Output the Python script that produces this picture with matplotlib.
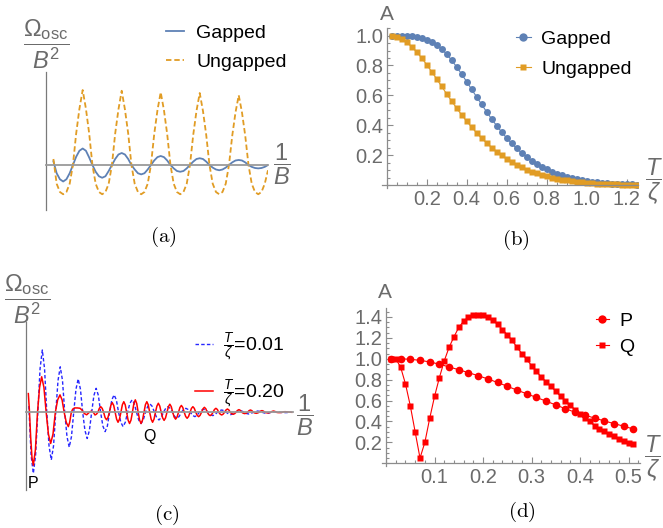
import numpy as np
import matplotlib.pyplot as plt
from matplotlib.lines import Line2D
from matplotlib.ticker import FixedLocator, MultipleLocator, FormatStrFormatter

plt.rcParams['font.family'] = ['Liberation Sans', 'DejaVu Sans']
plt.rcParams['mathtext.fontset'] = 'custom'
plt.rcParams['mathtext.rm'] = 'Liberation Sans'
plt.rcParams['mathtext.it'] = 'Liberation Sans:italic'
plt.rcParams['mathtext.bf'] = 'Liberation Sans:bold'

# --- (a) oscillating part vs 1/B (arbitrary units) ---
osc_x = np.linspace(0.19, 5.69, 67)
gapped_osc = [
    0.05, -0.11, -0.19, -0.22, -0.19, -0.11, 0.0, 0.11, 0.19, 0.22, 0.19, 0.10,
    0.0, -0.09, -0.15, -0.17, -0.15, -0.08, 0.0, 0.08, 0.14, 0.16, 0.14, 0.08,
    0.0, -0.06, -0.11, -0.125, -0.11, -0.06, 0.0, 0.06, 0.105, 0.12, 0.105, 0.06,
    0.0, -0.045, -0.08, -0.09, -0.08, -0.045, 0.0, 0.045, 0.08, 0.09, 0.08, 0.045,
    0.0, -0.035, -0.06, -0.07, -0.06, -0.035, 0.0, 0.035, 0.06, 0.067, 0.06, 0.035,
    0.0, -0.025, -0.04, -0.045, -0.04, -0.025, 0.0,
]
ungapped_osc = [
    0.08, -0.25, -0.36,
    -0.39, -0.36, -0.25, 0.0, 0.42, 0.75, 1.0, 0.75, 0.42, 0.0, -0.25, -0.36,
    -0.39, -0.36, -0.25, 0.0, 0.42, 0.74, 0.99, 0.74, 0.42, 0.0, -0.25, -0.36,
    -0.39, -0.36, -0.25, 0.0, 0.41, 0.73, 0.97, 0.73, 0.41, 0.0, -0.25, -0.36,
    -0.39, -0.36, -0.25, 0.0, 0.40, 0.72, 0.96, 0.72, 0.40, 0.0, -0.25, -0.36,
    -0.39, -0.36, -0.25, 0.0, 0.39, 0.70, 0.93, 0.70, 0.39, 0.0, -0.25, -0.36,
    -0.39, -0.36, -0.25, -0.07,
]

# --- (b) amplitude vs T/zeta ---
temp_b = np.linspace(0.025, 1.25, 50)
gapped_amp = [
    1.0, 1.0, 1.0, 0.998, 0.995, 0.99, 0.982, 0.97, 0.955, 0.935,
    0.91, 0.875, 0.835, 0.79, 0.742, 0.692, 0.64, 0.59, 0.54, 0.49,
    0.443, 0.398, 0.356, 0.316, 0.28, 0.247, 0.216, 0.19, 0.165, 0.143,
    0.124, 0.107, 0.092, 0.079, 0.067, 0.057, 0.049, 0.041, 0.035, 0.03,
    0.025, 0.021, 0.018, 0.015, 0.013, 0.011, 0.009, 0.008, 0.007, 0.006,
]
ungapped_amp = [
    1.0, 0.99, 0.975, 0.955, 0.925, 0.89, 0.85, 0.805, 0.758, 0.71,
    0.66, 0.61, 0.562, 0.515, 0.47, 0.428, 0.388, 0.35, 0.315, 0.283,
    0.253, 0.225, 0.2, 0.177, 0.156, 0.138, 0.121, 0.106, 0.093, 0.081,
    0.07, 0.061, 0.053, 0.046, 0.039, 0.034, 0.029, 0.025, 0.021, 0.018,
    0.015, 0.013, 0.011, 0.009, 0.008, 0.007, 0.006, 0.005, 0.004, 0.004,
]

# --- (c) oscillating part for T/zeta = 0.01 and 0.20 ---
low_t_x = np.linspace(0.0285, 2.653, 118)
low_t_osc = [
    0.10, -0.69, -0.98, -0.69, 0.0, 0.70, 1.0, 0.70, 0.0, -0.54,
    -0.765, -0.54, 0.0, 0.51, 0.73, 0.51, 0.0, -0.39, -0.56, -0.39,
    0.0, 0.37, 0.535, 0.37, 0.0, -0.29, -0.42, -0.29, 0.0, 0.27,
    0.385, 0.27, 0.0, -0.22, -0.31, -0.22, 0.0, 0.20, 0.28, 0.20,
    0.0, -0.16, -0.23, -0.16, 0.0, 0.14, 0.20, 0.14, 0.0, -0.125,
    -0.18, -0.125, 0.0, 0.095, 0.134, 0.095, 0.0, -0.086, -0.123, -0.086,
    0.0, 0.063, 0.09, 0.063, 0.0, -0.067, -0.096, -0.067, 0.0, 0.045,
    0.064, 0.045, 0.0, -0.049, -0.07, -0.049, 0.0, 0.034, 0.048, 0.034,
    0.0, -0.037, -0.053, -0.037, 0.0, 0.026, 0.037, 0.026, 0.0, -0.026,
    -0.037, -0.026, 0.0, 0.019, 0.027, 0.019, 0.0, -0.019, -0.027, -0.019,
    0.0, 0.014, 0.02, 0.014, 0.0, -0.011, -0.016, -0.011, 0.0, 0.007,
    0.01, 0.007, 0.0, -0.004, -0.005, -0.004, 0.0, 0.0,
]
high_t_head_x = [
    0.0233, 0.0333, 0.0467, 0.06, 0.0733, 0.0942, 0.115, 0.1358, 0.1567,
    0.1792, 0.2017, 0.2242, 0.2467, 0.27, 0.2933, 0.3167, 0.34, 0.3608,
    0.3817, 0.4025, 0.4233, 0.4367, 0.4533, 0.4667, 0.4867, 0.5133, 0.54,
    0.5633, 0.5833, 0.6067, 0.6333, 0.6533, 0.6733,
]
high_t_head = [
    0.30, 0.05, -0.40, -0.73, -0.85, -0.60, 0.0, 0.40, 0.57,
    0.40, 0.0, -0.35, -0.50, -0.35, 0.0, 0.20, 0.28, 0.20,
    0.0, -0.16, -0.23, -0.16, 0.0, 0.05, 0.07, 0.07, 0.065,
    0.03, -0.02, -0.04, 0.0, 0.02, 0.0,
]
high_t_tail_x = np.linspace(0.69, 2.59, 133)
high_t_tail = [
    -0.043, -0.03, 0.0, 0.063, 0.09, 0.063, 0.0, -0.084, -0.12, -0.084,
    0.0, 0.11, 0.155, 0.11, 0.0, -0.11, -0.16, -0.11, 0.0, 0.12,
    0.17, 0.12, 0.0, -0.126, -0.18, -0.126, 0.0, 0.14, 0.2, 0.14,
    0.0, -0.126, -0.18, -0.126, 0.0, 0.12, 0.17, 0.12, 0.0, -0.11,
    -0.16, -0.11, 0.0, 0.10, 0.145, 0.10, 0.0, -0.09, -0.13, -0.09,
    0.0, 0.09, 0.13, 0.09, 0.0, -0.077, -0.11, -0.077, 0.0, 0.077,
    0.11, 0.077, 0.0, -0.067, -0.096, -0.067, 0.0, 0.063, 0.09, 0.063,
    0.0, -0.049, -0.07, -0.049, 0.0, 0.056, 0.08, 0.056, 0.0, -0.037,
    -0.053, -0.037, 0.0, 0.045, 0.064, 0.045, 0.0, -0.03, -0.043, -0.03,
    0.0, 0.037, 0.053, 0.037, 0.0, -0.022, -0.032, -0.022, 0.0, 0.03,
    0.043, 0.03, 0.0, -0.015, -0.021, -0.015, 0.0, 0.026, 0.037, 0.026,
    0.0, -0.011, -0.016, -0.011, 0.0, 0.019, 0.027, 0.019, 0.0, -0.007,
    -0.01, -0.007, 0.0, 0.014, 0.02, 0.014, 0.0, -0.004, -0.005, -0.004,
    0.0, 0.007, 0.01,
]
high_t_end_x = [2.6567]
high_t_end = [0.0]

# --- (d) amplitude at points P and Q vs T/zeta ---
p_temp = np.linspace(0.01, 0.51, 26)
p_amp = [
    1.0, 1.0, 0.995, 0.985, 0.97, 0.948, 0.922, 0.895, 0.867, 0.838,
    0.807, 0.773, 0.737, 0.70, 0.665, 0.63, 0.595, 0.558, 0.522, 0.488,
    0.46, 0.433, 0.405, 0.38, 0.355, 0.328,
]
q_temp = np.linspace(0.01, 0.51, 51)
q_amp = [
    1.0, 1.0, 0.92, 0.76, 0.55, 0.30, 0.05, 0.20, 0.43, 0.64,
    0.82, 0.98, 1.11, 1.21, 1.30, 1.36, 1.40, 1.42, 1.42, 1.415,
    1.40, 1.37, 1.33, 1.28, 1.23, 1.175, 1.11, 1.05, 0.995, 0.935,
    0.88, 0.825, 0.78, 0.735, 0.69, 0.64, 0.6, 0.555, 0.51, 0.47,
    0.43, 0.40, 0.36, 0.33, 0.305, 0.28, 0.257, 0.235, 0.213, 0.197,
    0.183,
]

BLUE = '#5e81b5'
ORANGE = '#e19c24'
RED = '#ff0000'
DBLUE = '#2626ff'
GRAY_TXT = '#6b6b6b'
GRAY_AX = '#8c8c8c'
W, H = 663, 528


def fpos(x, y):
    # pixel position (from top-left) -> figure fraction
    return x / W, 1 - y / H


def box(left, top, right, bottom):
    return [left / W, 1 - bottom / H, (right - left) / W, (bottom - top) / H]


fig = plt.figure(figsize=(W / 100, H / 100), dpi=100)

frac_B = r'$\dfrac{1}{B}$'
frac_T = r'$\dfrac{T}{\zeta}$'
frac_om = r'$\dfrac{\Omega_{\mathrm{osc}}}{B^2}$'
LBL = 17      # size of the fraction axis labels
TXT = 14      # legend text
TCK = 14.5    # tick labels


def osc_axes(rect, xlim, ylim):
    ax = fig.add_axes(rect)
    ax.set_xlim(*xlim)
    ax.set_ylim(*ylim)
    for s in ['top', 'right']:
        ax.spines[s].set_visible(False)
    ax.spines['left'].set_color('#7a7a7a')
    ax.spines['left'].set_linewidth(0.9)
    ax.spines['bottom'].set_position(('data', 0))
    ax.spines['bottom'].set_color('#9a9a9a')
    ax.spines['bottom'].set_linewidth(1.3)
    ax.set_xticks([])
    ax.set_yticks([])
    ax.patch.set_alpha(0)
    return ax


def amp_axes(rect, xlim, ylim, xmaj, xmin, ymaj, ymin):
    ax = fig.add_axes(rect)
    ax.set_xlim(*xlim)
    ax.set_ylim(*ylim)
    for s in ['top', 'right']:
        ax.spines[s].set_visible(False)
    for s in ['left', 'bottom']:
        ax.spines[s].set_position(('data', 0))
        ax.spines[s].set_color(GRAY_AX)
        ax.spines[s].set_linewidth(0.9)
    ax.xaxis.set_major_locator(FixedLocator(xmaj))
    ax.xaxis.set_minor_locator(MultipleLocator(xmin))
    ax.yaxis.set_major_locator(FixedLocator(ymaj))
    ax.yaxis.set_minor_locator(MultipleLocator(ymin))
    ax.xaxis.set_major_formatter(FormatStrFormatter('%.1f'))
    ax.yaxis.set_major_formatter(FormatStrFormatter('%.1f'))
    ax.tick_params(which='both', direction='in', color=GRAY_AX, width=0.8,
                   labelcolor=GRAY_TXT, labelsize=TCK)
    ax.tick_params(which='major', length=4)
    ax.tick_params(which='minor', length=2)
    ax.tick_params(axis='x', pad=3.5)
    ax.tick_params(axis='y', pad=2.5)
    ax.patch.set_alpha(0)
    return ax


# ---------- (a) ----------
ax_a = osc_axes(box(46, 72, 268, 210), (0, 5.69), (-0.6, 1.24))
ax_a.plot(osc_x, gapped_osc, color=BLUE, lw=1.3)
ax_a.plot(osc_x, ungapped_osc, color=ORANGE, lw=1.3, ls=(0, (3, 1.6)))
ax_a.legend([Line2D([], [], color=BLUE, lw=1.3),
             Line2D([], [], color=ORANGE, lw=1.3, ls=(0, (3, 1.6)))],
            ['Gapped', 'Ungapped'], loc='upper left',
            bbox_to_anchor=fpos(166, 24), bbox_transform=fig.transFigure,
            frameon=False, fontsize=TXT, handlelength=0.95,
            handletextpad=0.6, labelspacing=0.6, borderpad=0, borderaxespad=0)
fig.text(*fpos(46, 44), frac_om, color=GRAY_TXT, fontsize=LBL, ha='center', va='center')
fig.text(*fpos(282, 164), frac_B, color=GRAY_TXT, fontsize=LBL, ha='center', va='center')
fig.text(*fpos(163, 237), r'$\mathrm{(a)}$', math_fontfamily='cm', fontsize=15,
         ha='center', va='center')

# ---------- (b) ----------
ax_b = amp_axes(box(381.7, 28, 638, 188.5), (-0.025, 1.2565), (-0.02, 1.05),
                [0.2, 0.4, 0.6, 0.8, 1.0, 1.2], 0.05, [0.2, 0.4, 0.6, 0.8, 1.0], 0.05)
ax_b.plot(temp_b, gapped_amp, color=BLUE, lw=0.8, marker='o', ms=5, mec='none')
ax_b.plot(temp_b, ungapped_amp, color=ORANGE, lw=0.8, marker='s', ms=3.8, mec='none')
ax_b.legend([Line2D([], [], color=BLUE, lw=0.8, marker='o', ms=6, mec='none'),
             Line2D([], [], color=ORANGE, lw=0.8, marker='s', ms=4.5, mec='none')],
            ['Gapped', 'Ungapped'], loc='upper left',
            bbox_to_anchor=fpos(516, 30), bbox_transform=fig.transFigure,
            frameon=False, fontsize=TXT, handlelength=0.75,
            handletextpad=0.55, labelspacing=0.66, borderpad=0, borderaxespad=0)
fig.text(*fpos(387, 15), 'A', color=GRAY_TXT, fontsize=15, ha='center', va='center')
fig.text(*fpos(654, 182), frac_T, color=GRAY_TXT, fontsize=LBL, ha='center', va='center')
fig.text(*fpos(516, 240), r'$\mathrm{(b)}$', math_fontfamily='cm', fontsize=15,
         ha='center', va='center')

# ---------- (c) ----------
ax_c = osc_axes(box(26, 321.7, 292.7, 490), (0, 2.667), (-1.247, 1.454))
ax_c.plot(low_t_x, low_t_osc, color=DBLUE, lw=1.0, ls=(0, (2.5, 1.6)))
ax_c.plot(high_t_head_x + list(high_t_tail_x) + high_t_end_x,
          high_t_head + high_t_tail + high_t_end, color=RED, lw=1.1)
ax_c.text(0.073, -1.14, 'P', fontsize=11.5, ha='center', va='center')
ax_c.text(1.233, -0.39, 'Q', fontsize=11.5, ha='center', va='center')
ax_c.legend([Line2D([], [], color=DBLUE, lw=1.0, ls=(0, (2.5, 1.6))),
             Line2D([], [], color=RED, lw=1.1)],
            [r'$\frac{T}{\zeta}$=0.01', r'$\frac{T}{\zeta}$=0.20'], loc='upper left',
            bbox_to_anchor=fpos(195, 331), bbox_transform=fig.transFigure,
            frameon=False, fontsize=TXT, handlelength=0.95,
            handletextpad=0.5, labelspacing=0.75, borderpad=0, borderaxespad=0)
fig.text(*fpos(27, 299), frac_om, color=GRAY_TXT, fontsize=LBL, ha='center', va='center')
fig.text(*fpos(305, 415), frac_B, color=GRAY_TXT, fontsize=LBL, ha='center', va='center')
fig.text(*fpos(167, 515), r'$\mathrm{(c)}$', math_fontfamily='cm', fontsize=15,
         ha='center', va='center')

# ---------- (d) ----------
ax_d = amp_axes(box(381.7, 308.3, 640, 466), (-0.009, 0.5237), (-0.026, 1.483),
                [0.1, 0.2, 0.3, 0.4, 0.5], 0.02,
                [0.2, 0.4, 0.6, 0.8, 1.0, 1.2, 1.4], 0.05)
ax_d.plot(p_temp, p_amp, color=RED, lw=0.8, marker='o', ms=5.5, mec='none')
ax_d.plot(q_temp, q_amp, color=RED, lw=0.8, marker='s', ms=3.8, mec='none')
ax_d.legend([Line2D([], [], color=RED, lw=0.8, marker='o', ms=6, mec='none'),
             Line2D([], [], color=RED, lw=0.8, marker='s', ms=4.5, mec='none')],
            ['P', 'Q'], loc='upper left',
            bbox_to_anchor=fpos(596, 312), bbox_transform=fig.transFigure,
            frameon=False, fontsize=TXT, handlelength=0.65,
            handletextpad=0.55, labelspacing=0.45, borderpad=0, borderaxespad=0)
fig.text(*fpos(385, 293), 'A', color=GRAY_TXT, fontsize=15, ha='center', va='center')
fig.text(*fpos(653, 459), frac_T, color=GRAY_TXT, fontsize=LBL, ha='center', va='center')
fig.text(*fpos(522, 512), r'$\mathrm{(d)}$', math_fontfamily='cm', fontsize=15,
         ha='center', va='center')

fig.savefig('out.png', dpi=100)
